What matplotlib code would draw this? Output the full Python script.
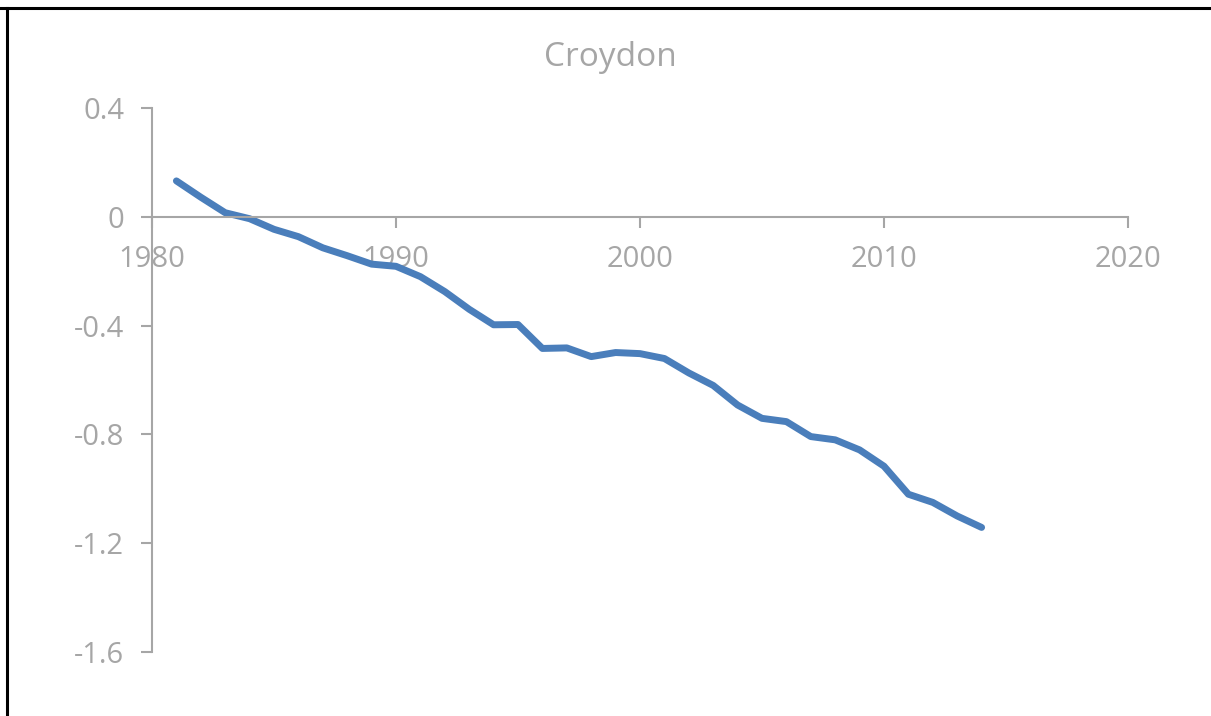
import matplotlib.pyplot as plt
from matplotlib.lines import Line2D

plt.rcParams['font.family'] = ['Open Sans', 'DejaVu Sans']

# data
years = list(range(1981, 2015))
values = [0.132, 0.072, 0.015, -0.007, -0.046, -0.073, -0.114, -0.143, -0.174, -0.182,
          -0.220, -0.275, -0.340, -0.397, -0.396, -0.484, -0.482, -0.514, -0.499, -0.503,
          -0.521, -0.574, -0.620, -0.692, -0.741, -0.753, -0.808, -0.820, -0.857, -0.917,
          -1.020, -1.050, -1.100, -1.142]
xticks = [1980, 1990, 2000, 2010, 2020]
yticks = [0.4, 0.0, -0.4, -0.8, -1.2, -1.6]
ylabels = ['0.4', '0', '-0.4', '-0.8', '-1.2', '-1.6']

grey = '#A6A6A6'
blue = '#4A7EBB'

fig = plt.figure(figsize=(12.11, 7.16), dpi=100)
ax = fig.add_axes([152 / 1211, 1 - 652 / 716, (1128 - 152) / 1211, (652 - 108) / 716])

ax.plot(years, values, color=blue, linewidth=5, solid_capstyle='round', solid_joinstyle='round')

ax.set_xlim(1980, 2020)
ax.set_ylim(-1.6, 0.4)
ax.set_xticks(xticks)
ax.set_yticks(yticks)
ax.set_yticklabels(ylabels)

ax.spines['top'].set_visible(False)
ax.spines['right'].set_visible(False)
ax.spines['bottom'].set_position(('data', 0))
for s in ['left', 'bottom']:
    ax.spines[s].set_color(grey)
    ax.spines[s].set_linewidth(1.5)

ax.tick_params(axis='both', colors=grey, labelcolor=grey, labelsize=21, length=8, width=1.5)
ax.tick_params(axis='y', pad=12)
ax.tick_params(axis='x', pad=12)

fig.text(610 / 1211, 1 - 57 / 716, 'Croydon', ha='center', va='center', fontsize=24, color=grey)

# outer chart border (top and left visible)
fig.add_artist(Line2D([0, 1], [1 - 7.5 / 716, 1 - 7.5 / 716], transform=fig.transFigure, color='black', linewidth=2.2))
fig.add_artist(Line2D([7 / 1211, 7 / 1211], [0, 1 - 7.5 / 716], transform=fig.transFigure, color='black', linewidth=2.2))

fig.savefig('out.png', dpi=100)
